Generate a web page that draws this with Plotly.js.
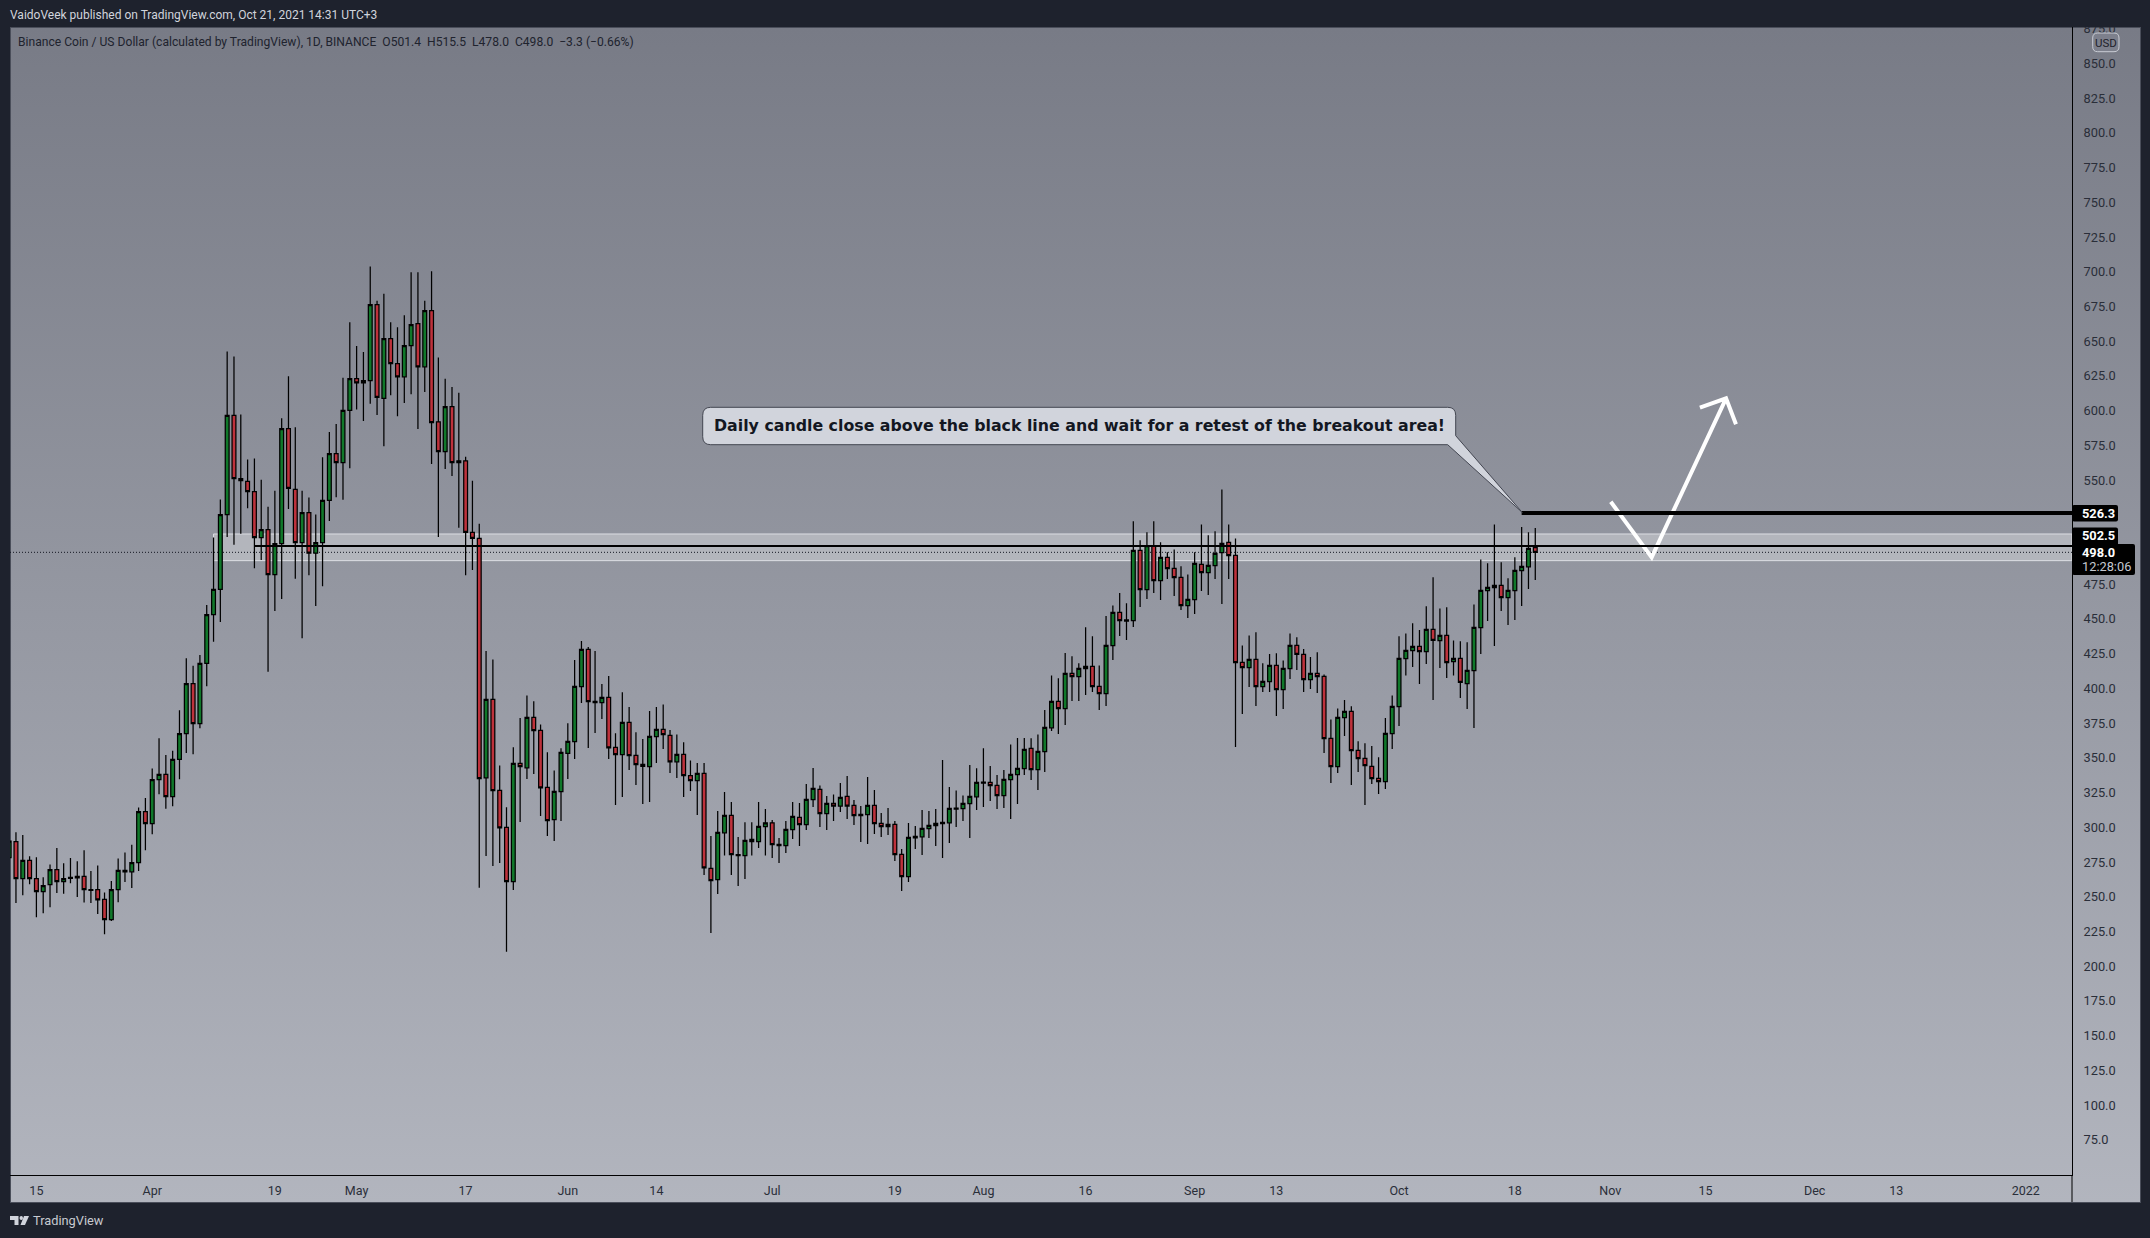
<!DOCTYPE html>
<html>
<head>
<meta charset="utf-8">
<title>BNB/USD</title>
<script src="https://cdn.plot.ly/plotly-3.0.1.min.js"></script>
<style>
  html, body { margin: 0; padding: 0; background: #1e222d; width: 2150px; height: 1238px; overflow: hidden; }
  #panel { position: absolute; left: 10px; top: 27px; width: 2129px; height: 1174px; border: 1px solid #4a4e5a;
           background: linear-gradient(to bottom, #787b86, #b2b5be); }
  #chart { position: absolute; left: 0; top: 0; width: 2150px; height: 1238px; }
</style>
</head>
<body>
<div id="panel"></div>
<div id="chart"></div>
<script>
// daily candles, first one is 2021-03-11
const firstDay = '2021-03-11';

const opens = [
  278.2,289.8,263,276.2,263,253.8,258.7,269.6,261,263.3,
  264.7,264.7,255.1,255.1,248.1,233.6,255.1,268,268,274.6,
  311.3,302.7,334.4,338.1,322.2,349,367.5,403.5,374.7,418.1,
  453.1,471.3,525.2,596.6,551,549,541.7,508.6,514.3,481.9,
  504.3,587,543.4,505,526.5,497.4,505,535.4,569.1,562.5,
  600.2,623,620,621.7,676.3,608.8,651.8,633.9,624.4,646.8,
  662.7,631.6,672,592,570.5,602.9,562.5,563.9,512.3,508,
  335.7,392.1,326.6,300,260.9,346,342.9,379.2,369.8,328.8,
  305.5,325.7,353.2,361.7,401.3,428.1,390.7,389.7,393.6,357.6,
  352.3,375.6,351.8,345.3,343.7,365.3,370.5,366.2,347.2,352.5,
  337.2,333.6,338.9,270.5,262.3,296.1,308.6,280.3,279.6,291.3,
  289.7,300.5,303.3,287.7,286.8,298.3,307.2,301.9,319.9,327.3,
  309.8,317.3,315.3,322.3,315.8,309.3,309.1,315.8,302.9,300.5,
  302.1,280.5,264.5,292.5,293.2,299,301.2,302.6,303.3,313.2,
  313.4,317,322,331.9,332.4,330.2,322.8,334.3,337.9,342.2,
  356.9,341.5,354.5,371.7,390.7,385.4,410.9,408.5,414.2,415.9,
  401.5,396.2,430.8,454.8,448.5,448.8,499.4,471.1,502.8,477.6,
  494.4,486.5,480,459.6,463.9,489.3,483.3,488.4,497.7,505.2,
  495.8,418.8,414.9,420.9,401.3,404.9,416.6,399.1,414.2,431,
  424.5,406.3,410.9,408.7,364.1,343.7,378.9,383.5,355.4,349.6,
  343.9,335.3,332.9,367.4,386.9,421.4,427.2,430.3,426.5,442.5,
  434.4,438.2,419.3,421.7,403.4,412.8,443.7,470.4,472.5,474.2,
  465.3,470.4,484.8,487.6,501.4
];
const highs = [
  297,296.4,294.4,279.2,278.5,264,273.3,285.2,274.2,277.9,
  275.6,283.5,268.6,272.6,253.1,261.4,277.6,281.9,287.5,314.3,
  321.2,342.4,364.2,352,355.2,384.3,421.7,416.4,424,460,
  508.6,536.1,642.5,638.9,597.2,564.8,565.5,550.3,530.8,542.4,
  594.6,624.7,588,542.4,537.4,525.2,566.5,584.7,590.3,623.7,
  663.7,646.5,642.2,703.7,679.2,684.2,663.7,660,668.7,699.7,
  699.7,679.2,700.4,638.2,623,617.1,612.8,566.8,549.6,518.6,
  426.9,420.9,344.6,314.4,357.6,378.7,395,390.7,374.1,354,
  341,356.9,374.9,420.5,434.1,429.8,426.9,403.2,408.9,367.7,
  397.2,386.6,368.4,363.6,383.7,386.6,388.5,370,366.9,361.2,
  348.2,346.3,346.3,293.7,311.7,325.4,318.2,293,303.6,303.6,
  318.2,313.2,305.3,292.3,304.5,318.2,317.5,331.2,342.7,330.2,
  322.5,323.7,331.9,336.9,319.7,315.3,336.2,326.9,310.3,313.9,
  304.5,284.4,303.1,300.9,312.5,311.7,313.2,348.5,329,326.6,
  323,344.9,342.5,356.9,344.1,337.7,341.3,359.7,364.3,364.3,
  364.1,366.9,384.5,409.4,407.3,425.5,423.1,418.1,444,437.5,
  416.6,452.1,459.8,468.7,461.3,520.3,506.6,512.4,520.3,505.2,
  498,500.1,487.9,482.1,498,518.1,510.2,513.1,543.3,518.1,
  508,431,438.2,440.4,418.1,424.8,425.3,420.2,439.6,436.8,
  428.4,422.6,426,410.1,377.7,385.6,391.6,387.1,361.9,360.5,
  358.5,350.4,378.7,395,437.5,439.6,446.9,442.1,459.1,480,
  457.6,458.4,434.6,433.9,433.2,460.5,492.9,490.1,518.1,490.8,
  479.3,494.4,516.2,512.4,515.5
];
const lows = [
  262,245.5,251.1,259,235.2,238.2,242.5,252.8,252.1,259.7,
  249.8,245.8,245.5,237.6,223,232.6,246.1,260.7,256.4,268.6,
  283.5,295.1,323.8,313.3,315.2,334.7,353.6,352.6,371.4,401.5,
  433.6,447.8,509,503.4,511.3,529.8,486.5,492.4,412.1,455.8,
  464.3,529.1,478.9,436.2,481.5,459.4,473.6,520.5,537.7,535.8,
  558.6,600.9,592.6,604.9,596.9,574.4,611.1,595.9,605.5,611.8,
  586.7,613.4,561.5,509,557.9,553,515.6,481.5,485.2,256.5,
  279.3,272.1,274.3,210.5,254.9,303.8,334.8,338.4,308.1,293.7,
  290.1,304.5,334.8,349.2,389.5,357.1,367.9,378,349.2,316,
  321.8,341.2,330.5,316.8,318.2,346.3,356.4,339.1,335.5,321.8,
  326.1,308.8,265.7,223.9,252,279.8,265.7,257.7,262.8,279.8,
  285.1,279.8,277.9,274.3,281.5,291.6,286.5,298,314.6,300.2,
  298,304.5,311,306,301.7,289.4,288,295.2,293,294.5,
  275.7,254.1,260.6,284.4,280,292.3,286.5,277.9,288.7,300.2,
  304.5,292.3,312.5,314.6,318.9,313.2,313.9,306,316.8,337.7,
  334.1,326.9,339.8,369.3,367.2,373.7,390.9,390.9,395.3,397.4,
  384.5,387.3,420.5,437.7,434.9,444.2,458.6,464.4,468.7,463.7,
  478.8,466.5,456.5,450.7,453.6,470.1,467.3,478.8,460.8,478.8,
  357.8,381.6,401,387.3,397.4,397.4,380.1,385.2,406.8,413.3,
  397.4,399.6,396.7,353.5,331.9,339.1,365.7,330.5,339.8,316,
  331.2,324,327.6,356.4,372.9,409.4,415.4,403.2,417.6,391.6,
  414.7,407.5,409.4,393.1,385.2,371.5,424.8,448.5,430.5,455.7,
  445.6,449.3,459.3,471.6,478
];
const closes = [
  290.1,263,276.2,263,253.8,258,269.6,261,263,264,
  263.7,255.1,254.7,247.8,233.6,255.1,269,269,274.6,311.3,
  302.7,334.4,338.1,322.2,349,367.5,403.5,374.7,418.1,453.1,
  471.3,525.2,596.6,551,549.6,541.7,508.6,514.3,481.9,504.3,
  587,544,505,526.5,497.4,505,535.4,569.1,562.5,600.2,
  623,620,621.7,676.3,609.5,651.8,633.9,624.4,646.8,662,
  631.6,672,591.3,570.5,602.9,562.5,563.9,512.3,508,335,
  392.1,326.4,299.7,260.9,346,343.7,379.2,369.6,328.5,304.8,
  325.9,354,361.9,401.5,428.1,390.5,389.7,393.6,357.3,352.3,
  375.6,351.6,345.1,343.9,365.5,370.5,366.7,347.2,352.5,337.2,
  333.6,338.9,270.9,261.6,296.4,308.6,280.3,279.6,290.6,289.7,
  300.7,303.3,287.5,286.8,298.5,307.9,301.9,320.1,328,309.8,
  317.3,315.3,321.6,315.3,308.4,308.4,315.8,302.6,300.5,302.1,
  280.3,264.5,292.8,293.5,299.2,301.4,302.9,303.6,313.6,313.9,
  317.3,322.3,332.4,332.6,330,322.8,334.5,338.1,342.5,356.1,
  341.5,354.7,372,390.7,385.4,410.9,408.5,414.5,415.9,401.3,
  396.2,431,454.8,448.8,449.3,499.4,471.1,502.8,477.6,494.4,
  486.2,479.7,459.6,464.1,490,483.3,488.6,497.3,504.5,495.6,
  418.5,414.9,420.9,401.3,405,416.6,399.1,414.5,431,424.5,
  406.3,410.9,408.5,363.8,343.7,379.2,383.5,355.2,349.4,344.4,
  335,332.9,367.7,387.1,421.7,427.4,430.3,426.5,442.5,434.6,
  438.2,418.5,421.7,404.4,413,444,470.6,472.8,474.2,465.3,
  470.6,485,487.9,500.9,498
];

const tickDates = ['2021-03-15','2021-04-01','2021-04-19','2021-05-01','2021-05-17','2021-06-01','2021-06-14',
  '2021-07-01','2021-07-19','2021-08-01','2021-08-16','2021-09-01','2021-09-13','2021-10-01','2021-10-18',
  '2021-11-01','2021-11-15','2021-12-01','2021-12-13','2022-01-01'];
const tickLabels = ['15','Apr','19','May','17','Jun','14','Jul','19','Aug','16','Sep','13','Oct','18','Nov','15','Dec','13','2022'];
const priceTicks = [75,100,125,150,175,200,225,250,275,300,325,350,375,400,425,450,475,500,525,550,575,600,625,650,
  675,700,725,750,775,800,825,850,875];

// drawings on the chart
const arrowDates = ['2021-11-01 02:00','2021-11-07 02:00','2021-11-18 00:00','2021-11-14 04:00','2021-11-18 00:00','2021-11-19 11:00'];
const arrowPrices = [534.4,494.4,608.9,602.1,608.9,590.2];
const zoneTop = 511.2, zoneBottom = 492;
const zoneLine = 502.5, breakoutLine = 526.3, lastPrice = 498;
const zoneStart = '2021-04-10', zoneLineStart = '2021-04-16', breakoutStart = '2021-10-19';
const xRange = ['2021-03-11 03:00','2022-01-07 18:40'];
const yRange = [49.7,876.2];

const dates = opens.map((_, i) => {
  const d = new Date(firstDay + 'T00:00:00Z');
  d.setUTCDate(d.getUTCDate() + i);
  return d.toISOString().slice(0, 10);
});

const plotL = 10, plotR = 2072, plotT = 27, plotB = 1175;
const fx = (px) => (px - plotL) / (plotR - plotL);
const fy = (py) => (plotB - py) / (plotB - plotT);
const pt = (x, y) => fx(x) + ' ' + fy(y);

function roundRect(x0, y0, x1, y1, r) {
  return 'M' + pt(x0 + r, y0) + ' L' + pt(x1 - r, y0) + ' Q' + pt(x1, y0) + ' ' + pt(x1, y0 + r) +
    ' L' + pt(x1, y1 - r) + ' Q' + pt(x1, y1) + ' ' + pt(x1 - r, y1) +
    ' L' + pt(x0 + r, y1) + ' Q' + pt(x0, y1) + ' ' + pt(x0, y1 - r) +
    ' L' + pt(x0, y0 + r) + ' Q' + pt(x0, y0) + ' ' + pt(x0 + r, y0) + ' Z';
}

function calloutPath() {
  const x0 = 702.7, y0 = 407.3, x1 = 1455.7, y1 = 444.7, r = 8;
  return 'M' + pt(x0 + r, y0) + ' L' + pt(x1 - r, y0) + ' Q' + pt(x1, y0) + ' ' + pt(x1, y0 + r) +
    ' L' + pt(x1, 435.7) + ' L' + pt(1522.3, 512.5) + ' L' + pt(1447.7, y1) +
    ' L' + pt(x0 + r, y1) + ' Q' + pt(x0, y1) + ' ' + pt(x0, y1 - r) +
    ' L' + pt(x0, y0 + r) + ' Q' + pt(x0, y0) + ' ' + pt(x0 + r, y0) + ' Z';
}

function pathShape(path, fill, line, width) {
  return { type: 'path', xref: 'paper', yref: 'paper', layer: 'above', path: path, fillcolor: fill,
    line: { color: line || fill, width: width === undefined ? 0 : width } };
}

function note(text, px, py, size, color, anchor, family) {
  return { text: text, xref: 'paper', yref: 'paper', x: fx(px), y: fy(py), showarrow: false,
    xanchor: anchor || 'left', yanchor: 'middle', font: { family: family || 'Roboto', size: size, color: color } };
}

const shapes = [
  // support zone and price line sit behind the candles
  { type: 'rect', xref: 'x', yref: 'y', layer: 'below', x0: zoneStart, x1: xRange[1], y0: zoneBottom, y1: zoneTop,
    fillcolor: 'rgba(255,255,255,0.31)', line: { color: '#dcdee3', width: 1 } },
  { type: 'line', xref: 'x', yref: 'y', layer: 'below', x0: xRange[0], x1: xRange[1], y0: lastPrice, y1: lastPrice,
    line: { color: '#131722', width: 1, dash: '1px,2px' } },
  { type: 'line', xref: 'x', yref: 'y', layer: 'above', x0: zoneLineStart, x1: xRange[1], y0: zoneLine, y1: zoneLine,
    line: { color: '#000000', width: 2 } },
  { type: 'line', xref: 'x', yref: 'y', layer: 'above', x0: breakoutStart, x1: xRange[1], y0: breakoutLine, y1: breakoutLine,
    line: { color: '#000000', width: 4 } },
  pathShape(calloutPath(), '#d1d4dc', '#434651', 1),
  // price axis runs down through the time axis strip
  { type: 'line', xref: 'paper', yref: 'paper', layer: 'above', x0: 1, x1: 1, y0: fy(plotB), y1: fy(1202),
    line: { color: '#000000', width: 1 } },
  // header strip hides the clipped top tick
  pathShape('M' + pt(0, 0) + ' L' + pt(2150, 0) + ' L' + pt(2150, 27) + ' L' + pt(0, 27) + ' Z', '#1e222d'),
  // axis price boxes
  pathShape(roundRect(2072, 505, 2118, 521.5, 2), '#000000'),
  pathShape(roundRect(2072, 527.5, 2118, 546, 2), '#000000'),
  pathShape(roundRect(2072, 544, 2135, 575, 2), '#000000'),
  pathShape(roundRect(2092.7, 33, 2119, 51.7, 5), '#7d808c', '#c9ccd4', 1),
  // tradingview mark
  pathShape('M' + pt(10, 1216) + ' L' + pt(18.5, 1216) + ' L' + pt(18.5, 1225) + ' L' + pt(14.5, 1225) +
    ' L' + pt(14.5, 1220) + ' L' + pt(10, 1220) + ' Z', '#d1d4dc'),
  pathShape('M' + pt(24, 1216) + ' L' + pt(29, 1216) + ' L' + pt(25, 1225) + ' L' + pt(20.5, 1225) + ' Z', '#d1d4dc'),
  pathShape('M' + pt(19.5, 1218) + ' Q' + pt(19.5, 1216) + ' ' + pt(21.3, 1216) + ' Q' + pt(23, 1216) + ' ' + pt(23, 1218) +
    ' Q' + pt(23, 1220) + ' ' + pt(21.3, 1220) + ' Q' + pt(19.5, 1220) + ' ' + pt(19.5, 1218) + ' Z', '#d1d4dc')
];

const annotations = [
  note('VaidoVeek published on TradingView.com, Oct 21, 2021 14:31 UTC+3', 7.5, 15, 12, '#d1d4dc'),
  note('Binance Coin / US Dollar (calculated by TradingView), 1D, BINANCE\u00a0\u00a0O501.4\u00a0\u00a0H515.5\u00a0\u00a0L478.0\u00a0\u00a0C498.0\u00a0\u00a0\u22123.3 (\u22120.66%)',
    15.5, 42, 12.1, '#20232e'),
  note('<b>Daily candle close above the black line and wait for a retest of the breakout area!</b>', 1079.5, 425.5, 15.8, '#131722', 'center', 'DejaVu Sans'),
  note('<b>526.3</b>', 2080, 513.3, 12.8, '#ffffff'),
  note('<b>502.5</b>', 2080, 535.5, 12.8, '#ffffff'),
  note('<b>498.0</b>', 2080, 552.5, 12.8, '#ffffff'),
  note('12:28:06', 2080, 566.5, 12.8, '#c5c8d0'),
  note('USD', 2105.8, 42.5, 11.5, '#1f222b', 'center'),
  note('TradingView', 31, 1220.5, 12.8, '#c8cad1')
];

const traces = [
  {
    type: 'candlestick',
    x: dates, open: opens, high: highs, low: lows, close: closes,
    increasing: { line: { color: '#000000', width: 1.25 }, fillcolor: '#10782a' },
    decreasing: { line: { color: '#000000', width: 1.25 }, fillcolor: '#be323c' },
    whiskerwidth: 0,
    hoverinfo: 'skip',
    showlegend: false
  },
  {
    type: 'scatter', mode: 'lines',
    x: arrowDates, y: arrowPrices,
    line: { color: '#ffffff', width: 4 },
    hoverinfo: 'skip',
    showlegend: false
  }
];

const layout = {
  width: 2150,
  height: 1238,
  paper_bgcolor: 'rgba(0,0,0,0)',
  plot_bgcolor: 'rgba(0,0,0,0)',
  margin: { l: plotL, r: 2150 - plotR, t: plotT, b: 1238 - plotB, pad: 0 },
  showlegend: false,
  boxgap: 0.3,
  boxgroupgap: 0.2,
  xaxis: {
    type: 'date', range: xRange, rangeslider: { visible: false },
    tickmode: 'array', tickvals: tickDates, ticktext: tickLabels,
    showgrid: false, zeroline: false, showline: true, linecolor: '#000000', linewidth: 1,
    ticks: '', tickangle: 0, ticklabelstandoff: 4,
    tickfont: { family: 'Roboto', size: 12.5, color: '#2a2e39' }
  },
  yaxis: {
    side: 'right', range: yRange, tickmode: 'array', tickvals: priceTicks, tickformat: '.1f',
    showgrid: false, zeroline: false, showline: true, linecolor: '#000000', linewidth: 1,
    ticks: 'outside', ticklen: 8, tickcolor: 'rgba(0,0,0,0)',
    tickfont: { family: 'Roboto', size: 12.8, color: '#2a2e39' }
  },
  shapes: shapes,
  annotations: annotations
};

Plotly.newPlot('chart', traces, layout, { displayModeBar: false, staticPlot: true });
</script>
</body>
</html>
